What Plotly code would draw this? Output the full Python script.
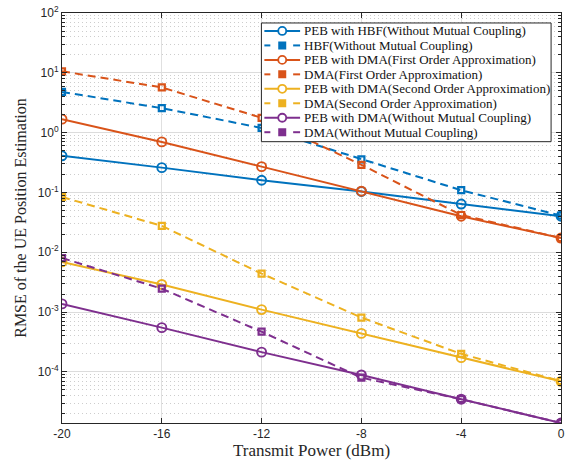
import plotly.graph_objects as go

# ---------------- data ----------------
power_dbm = [-20, -16, -12, -8, -4, 0]

peb_hbf_nomc = [0.41, 0.26, 0.16, 0.104, 0.064, 0.040]
hbf_nomc = [4.8, 2.56, 1.2, 0.357, 0.109, 0.041]
peb_dma_first = [1.68, 0.70, 0.27, 0.105, 0.040, 0.0173]
dma_first = [10.6, 5.7, 1.77, 0.29, 0.042, 0.0173]
peb_dma_second = [0.0069, 0.0029, 0.0011, 0.00044, 0.000173, 0.0000695]
dma_second = [0.084, 0.0276, 0.0044, 0.00081, 0.000200, 0.000070]
peb_dma_nomc = [0.00137, 0.00055, 0.000214, 0.000089, 0.000035, 0.0000140]
dma_nomc = [0.0080, 0.00246, 0.00047, 0.000080, 0.000035, 0.0000140]

labels = [
    "PEB with HBF(Without Mutual Coupling)",
    "HBF(Without Mutual Coupling)",
    "PEB with DMA(First Order Approximation)",
    "DMA(First Order Approximation)",
    "PEB with DMA(Second Order Approximation)",
    "DMA(Second Order Approximation)",
    "PEB with DMA(Without Mutual Coupling)",
    "DMA(Without Mutual Coupling)",
]
series = [peb_hbf_nomc, hbf_nomc, peb_dma_first, dma_first,
          peb_dma_second, dma_second, peb_dma_nomc, dma_nomc]
colors = ["#0072BD", "#0072BD", "#D95319", "#D95319",
          "#EDB120", "#EDB120", "#7E2F8E", "#7E2F8E"]
solid = [True, False, True, False, True, False, True, False]

x_ticks = [-20, -16, -12, -8, -4, 0]
y_tick_exp = [-4, -3, -2, -1, 0, 1, 2]

# ---------------- figure ----------------
W, H = 569, 463
ML, MR, MT, MB = 62, 4, 12, 40
PW, PH = W - ML - MR, H - MT - MB

SERIF = "Liberation Serif"
SANS = "Liberation Sans"
DASH = "8px,5px"
fig = go.Figure()
for y, c, s, name in zip(series, colors, solid, labels):
    fig.add_trace(go.Scatter(
        x=power_dbm, y=y, name=name, mode="lines+markers",
        line=dict(color=c, width=2, dash="solid" if s else DASH),
        marker=dict(symbol="circle-open" if s else "square-open",
                    size=9 if s else 6, color=c,
                    line=dict(color=c, width=1.9 if s else 2.2)),
        showlegend=False,
    ))

axis_col = "#262626"
fig.update_xaxes(
    range=[-20, 0], tickvals=x_ticks, ticktext=[str(v) for v in x_ticks],
    showline=True, linecolor=axis_col, linewidth=1, mirror="ticks",
    ticks="inside", ticklen=5, tickcolor=axis_col,
    showgrid=True, gridcolor="#e0e0e0", gridwidth=1, zeroline=False,
    tickfont=dict(family=SANS, size=12, color=axis_col),
    title=dict(text="Transmit Power (dBm)", standoff=3,
               font=dict(family=SERIF, size=17, color=axis_col)),
)
fig.update_yaxes(
    type="log", range=[-4.854, 2],
    tickvals=[10 ** e for e in y_tick_exp],
    ticktext=["10<sup>%d</sup>" % e for e in y_tick_exp],
    showline=True, linecolor=axis_col, linewidth=1, mirror="ticks",
    ticks="inside", ticklen=5, tickcolor=axis_col,
    showgrid=True, gridcolor="#dcdcdc", gridwidth=1, zeroline=False,
    tickfont=dict(family=SANS, size=12, color=axis_col),
    minor=dict(ticks="inside", ticklen=3, tickcolor=axis_col,
               showgrid=True, gridcolor="#cdcdcd", griddash="1px,3px", gridwidth=1,
               dtick="D1"),
    title=dict(text="RMSE of the UE Position Estimation", standoff=7,
               font=dict(family=SERIF, size=16, color=axis_col)),
)

# ---------------- manual legend (MATLAB style) ----------------
def px2x(px):
    return (px - ML) / PW

def py2y(py):
    return (H - MB - py) / PH

box = dict(x0=263, x1=555, y0=22, y1=141)
fig.add_shape(type="rect", xref="paper", yref="paper",
              x0=px2x(box["x0"]), x1=px2x(box["x1"]),
              y0=py2y(box["y1"]), y1=py2y(box["y0"]),
              line=dict(color=axis_col, width=1), fillcolor="white", layer="above")
row0, drow = 30, 14.5
for i, (name, c, s) in enumerate(zip(labels, colors, solid)):
    yc = py2y(row0 + i * drow)
    if s:
        fig.add_shape(type="line", xref="paper", yref="paper",
                      x0=px2x(266), x1=px2x(302), y0=yc, y1=yc,
                      line=dict(color=c, width=2), layer="above")
        fig.add_shape(type="circle", xref="paper", yref="paper",
                      xsizemode="pixel", ysizemode="pixel",
                      xanchor=px2x(284), yanchor=yc,
                      x0=-4, x1=4, y0=-4, y1=4,
                      line=dict(color=c, width=1.8), fillcolor="white", layer="above")
    else:
        for a, b in [(266, 272), (295, 302)]:
            fig.add_shape(type="line", xref="paper", yref="paper",
                          x0=px2x(a), x1=px2x(b), y0=yc, y1=yc,
                          line=dict(color=c, width=2), layer="above")
        fig.add_shape(type="rect", xref="paper", yref="paper",
                      xsizemode="pixel", ysizemode="pixel",
                      xanchor=px2x(284), yanchor=yc,
                      x0=-3, x1=3, y0=-3, y1=3,
                      line=dict(color=c, width=2), fillcolor=c, opacity=1,
                      layer="above")
    fig.add_annotation(xref="paper", yref="paper", x=px2x(304), y=yc,
                       text=name, showarrow=False, xanchor="left", yanchor="middle",
                       font=dict(family=SERIF, size=13, color="#111111"))

fig.update_layout(
    width=W, height=H, autosize=False,
    margin=dict(l=ML, r=MR, t=MT, b=MB),
    plot_bgcolor="white", paper_bgcolor="white",
    showlegend=False,
    font=dict(family=SERIF),
)

fig.write_html("out.html",
               config={"displayModeBar": False},
               post_script="document.body.style.margin='0px';"
                           "document.body.style.overflow='hidden';")
